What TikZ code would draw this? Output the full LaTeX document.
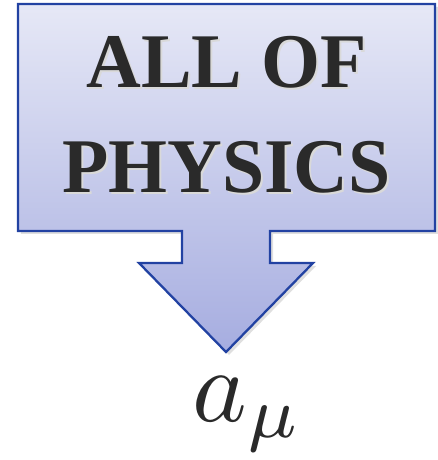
\documentclass[tikz,border=0pt]{standalone}
\usepackage{fontspec}
\usepackage{xcolor}
\usepackage{tikz}
\usetikzlibrary{shadows}
\newfontfamily\titlefont{Liberation Serif}

\definecolor{calloutTop}{HTML}{E6E8F6}
\definecolor{calloutBottom}{HTML}{A6ADE0}
\definecolor{calloutLine}{HTML}{2242A2}
\definecolor{titleInk}{HTML}{2A2A2A}

\tikzset{
  callout/.style={draw=calloutLine, line width=1.3pt, line join=miter,
    top color=calloutTop, bottom color=calloutBottom,
    drop shadow={shadow xshift=0.06cm, shadow yshift=-0.06cm, opacity=0.25}},
  titletext/.style={font=\titlefont\bfseries\fontsize{44}{46}\selectfont,
    text=titleInk, inner sep=0pt, anchor=base},
}

\begin{document}
\begin{tikzpicture}
\useasboundingbox (0,0) rectangle (8.76,9.2);
% box with down arrow
\path[callout] (0.36,9.12) -- (8.70,9.12) -- (8.70,4.58) -- (5.40,4.58)
  -- (5.40,3.94) -- (6.26,3.94) -- (4.52,2.16) -- (2.78,3.94)
  -- (3.64,3.94) -- (3.64,4.58) -- (0.36,4.58) -- cycle;
% title, with a faint engraved shadow
\node[titletext, text=white!70!gray] at (4.57,7.40) {\scalebox{0.98}[1]{ALL OF}};
\node[titletext] (lineone) at (4.53,7.44) {\scalebox{0.98}[1]{ALL OF}};
\node[titletext, text=white!70!gray] at (4.57,5.30) {\scalebox{0.98}[1]{PHYSICS}};
\node[titletext] (linetwo) at (4.53,5.34) {\scalebox{0.98}[1]{PHYSICS}};
% result
\node[anchor=base, inner sep=0pt, text=titleInk] (amu) at (4.96,0.76)
  {\scalebox{5.9}{$a_\mu$}};
\end{tikzpicture}
\end{document}
